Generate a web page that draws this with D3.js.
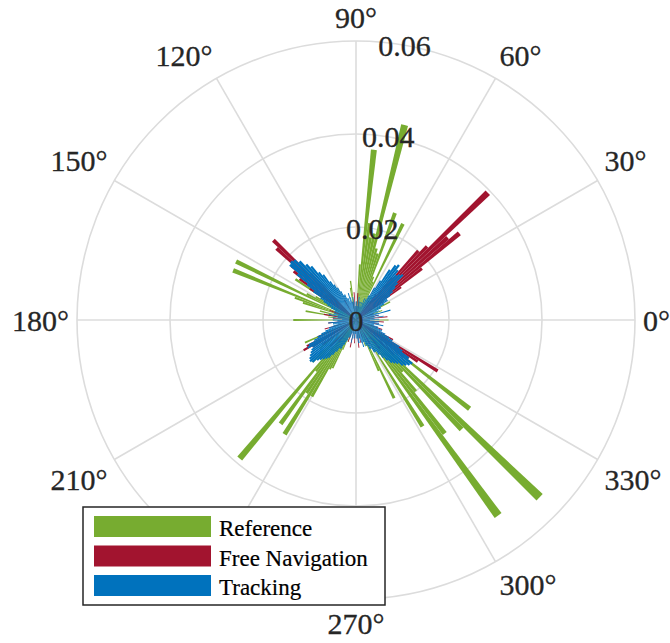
<!DOCTYPE html>
<html>
<head>
<meta charset="utf-8">
<script src="https://cdn.jsdelivr.net/npm/d3@7"></script>
<style>
  html, body { margin: 0; padding: 0; background: #ffffff; }
  svg { display: block; }
</style>
</head>
<body>
<svg id="chart" width="670" height="643"></svg>
<script>
// Polar histogram of heading angles: [bin centre in degrees, probability], 2-degree bins.
const binWidthDeg = 2;

const referenceBins = [
  [0, 0.007], [10, 0.004], [20, 0.006], [28, 0.0083], [34, 0.006], [50, 0.005],
  [56, 0.006], [60, 0.006], [64, 0.023], [66, 0.009], [68, 0.010], [70, 0.0245],
  [72, 0.015], [74, 0.016], [76, 0.0432], [78, 0.019], [80, 0.018], [82, 0.021],
  [84, 0.0368], [86, 0.012], [88, 0.004], [98, 0.0085], [100, 0.007],
  [136, 0.010], [142, 0.009], [146, 0.0157], [150, 0.010], [152, 0.012],
  [154, 0.0287], [158, 0.0285], [160, 0.014], [162, 0.012], [166, 0.008],
  [170, 0.011], [174, 0.006], [180, 0.0135], [196, 0.005],
  [204, 0.012], [210, 0.008], [218, 0.010], [224, 0.013], [226, 0.0115],
  [230, 0.0389], [232, 0.014], [234, 0.0276], [236, 0.019], [238, 0.029],
  [240, 0.019], [242, 0.012], [244, 0.0115], [246, 0.007], [250, 0.005],
  [280, 0.004], [290, 0.006], [294, 0.012], [296, 0.0187], [302, 0.027],
  [306, 0.052], [308, 0.031], [310, 0.020], [312, 0.015], [314, 0.0327],
  [316, 0.0549], [318, 0.014], [322, 0.031], [326, 0.012], [330, 0.008],
  [336, 0.005], [340, 0.004]
];

const freeNavigationBins = [
  [6, 0.0068], [12, 0.005], [20, 0.004], [30, 0.004], [34, 0.007], [36, 0.012],
  [38, 0.018], [40, 0.029], [42, 0.0265], [44, 0.0394], [46, 0.022], [48, 0.020],
  [50, 0.012], [52, 0.007], [56, 0.005], [80, 0.004], [86, 0.0058], [94, 0.006],
  [100, 0.004], [120, 0.005], [134, 0.014], [136, 0.0247], [138, 0.023],
  [140, 0.018], [142, 0.017], [144, 0.015], [146, 0.012], [160, 0.006],
  [170, 0.007], [176, 0.005], [186, 0.006], [196, 0.007], [204, 0.009],
  [208, 0.012], [210, 0.013], [212, 0.011], [216, 0.009], [226, 0.008],
  [232, 0.006], [250, 0.005], [258, 0.006], [266, 0.005], [276, 0.006],
  [282, 0.005], [290, 0.004], [300, 0.006], [310, 0.008], [318, 0.011],
  [322, 0.013], [324, 0.014], [326, 0.016], [328, 0.0207], [332, 0.009],
  [340, 0.006], [350, 0.005], [356, 0.006]
];

const trackingBins = [
  [0, 0.004], [2, 0.005], [4, 0.003], [6, 0.004], [8, 0.006], [10, 0.004],
  [12, 0.005], [14, 0.004], [16, 0.0077], [18, 0.005], [20, 0.004], [22, 0.0054],
  [24, 0.005], [26, 0.006], [28, 0.006], [30, 0.007], [32, 0.008], [34, 0.008],
  [36, 0.009], [38, 0.010], [40, 0.011], [42, 0.012], [44, 0.014], [46, 0.0135],
  [48, 0.013], [50, 0.014], [52, 0.015], [54, 0.0145], [56, 0.013], [58, 0.010],
  [60, 0.008], [62, 0.006], [64, 0.005], [66, 0.004], [68, 0.005], [70, 0.003],
  [72, 0.004], [74, 0.003], [76, 0.004], [78, 0.003], [80, 0.004], [82, 0.005],
  [84, 0.003], [86, 0.003], [88, 0.004], [90, 0.004], [92, 0.003], [94, 0.003],
  [96, 0.004], [98, 0.005], [100, 0.004], [102, 0.004], [104, 0.005], [106, 0.006],
  [108, 0.004], [110, 0.005], [112, 0.005], [114, 0.006], [116, 0.006], [118, 0.007],
  [120, 0.008], [122, 0.009], [124, 0.010], [126, 0.012], [128, 0.013], [130, 0.015],
  [132, 0.016], [134, 0.0175], [136, 0.0185], [138, 0.0188], [140, 0.0185], [142, 0.016],
  [144, 0.013], [146, 0.011], [148, 0.009], [150, 0.008], [152, 0.007], [154, 0.006],
  [156, 0.005], [158, 0.005], [160, 0.004], [162, 0.005], [164, 0.005], [166, 0.004],
  [168, 0.006], [170, 0.004], [172, 0.004], [174, 0.005], [176, 0.003], [178, 0.003],
  [180, 0.005], [182, 0.004], [184, 0.004], [186, 0.006], [188, 0.005], [190, 0.005],
  [192, 0.004], [194, 0.005], [196, 0.006], [198, 0.006], [200, 0.007], [202, 0.008],
  [204, 0.009], [206, 0.010], [208, 0.0115], [210, 0.012], [212, 0.011], [214, 0.0115],
  [216, 0.012], [218, 0.0125], [220, 0.013], [222, 0.0133], [224, 0.013], [226, 0.012],
  [228, 0.0115], [230, 0.011], [232, 0.0105], [234, 0.010], [236, 0.009], [238, 0.008],
  [240, 0.007], [242, 0.007], [244, 0.006], [246, 0.005], [248, 0.004], [250, 0.004],
  [252, 0.004], [254, 0.003], [256, 0.003], [258, 0.005], [260, 0.004], [262, 0.003],
  [264, 0.004], [266, 0.004], [268, 0.003], [270, 0.003], [272, 0.004], [274, 0.004],
  [276, 0.005], [278, 0.005], [280, 0.004], [282, 0.004], [284, 0.005], [286, 0.006],
  [288, 0.005], [290, 0.005], [292, 0.006], [294, 0.006], [296, 0.007], [298, 0.007],
  [300, 0.008], [302, 0.008], [304, 0.009], [306, 0.010], [308, 0.011], [310, 0.012],
  [312, 0.0125], [314, 0.013], [316, 0.014], [318, 0.0145], [320, 0.015], [322, 0.0153],
  [324, 0.014], [326, 0.012], [328, 0.011], [330, 0.009], [332, 0.008], [334, 0.007],
  [336, 0.006], [338, 0.006], [340, 0.005], [342, 0.005], [344, 0.004], [346, 0.004],
  [348, 0.006], [350, 0.004], [352, 0.005], [354, 0.004], [356, 0.005], [358, 0.003]
];

const seriesNames = ["Reference", "Free Navigation", "Tracking"];
const seriesColors = ["#77AC30", "#A2142F", "#0072BD"];
const radialTicks = [0, 0.02, 0.04, 0.06];
const angleTicks = [0, 30, 60, 90, 120, 150, 180, 210, 240, 270, 300, 330];

const svg = d3.select("#chart");
const cx = 356, cy = 320, outerR = 279;
const r = d3.scaleLinear().domain([0, 0.06]).range([0, outerR]);
const textColor = "#262626";
const gridColor = "#dcdcdc";
const serif = "Liberation Serif, serif";

const g = svg.append("g").attr("transform", `translate(${cx},${cy})`);
const rad = d => d * Math.PI / 180;

// grid rings and spokes
g.selectAll("circle.ring").data(radialTicks.slice(1)).join("circle")
  .attr("r", d => r(d)).attr("fill", "none")
  .attr("stroke", gridColor).attr("stroke-width", 1.6);
g.selectAll("line.spoke").data(angleTicks).join("line")
  .attr("x1", 0).attr("y1", 0)
  .attr("x2", d => outerR * Math.cos(rad(d)))
  .attr("y2", d => -outerR * Math.sin(rad(d)))
  .attr("stroke", gridColor).attr("stroke-width", 1.6);

// histogram wedges: math angle (ccw from east) -> d3.arc angle (cw from north)
const arc = d3.arc().innerRadius(0);
const allSeries = [referenceBins, freeNavigationBins, trackingBins];
allSeries.forEach((bins, i) => {
  g.append("g").selectAll("path").data(bins).join("path")
    .attr("d", ([a, v]) => arc({
      outerRadius: r(v),
      startAngle: Math.PI / 2 - rad(a + binWidthDeg / 2),
      endAngle: Math.PI / 2 - rad(a - binWidthDeg / 2)
    }))
    .attr("fill", seriesColors[i]);
});

// radial tick labels along the 80 degree direction
g.selectAll("text.rtick").data(radialTicks).join("text")
  .attr("x", d => r(d) * Math.cos(rad(80)))
  .attr("y", d => -r(d) * Math.sin(rad(80)))
  .attr("text-anchor", "middle").attr("dominant-baseline", "central")
  .attr("font-family", serif).attr("font-size", 30)
  .attr("fill", textColor).attr("stroke", textColor).attr("stroke-width", 0.3)
  .text(d => d === 0 ? "0" : d3.format(".2f")(d));

// angular tick labels placed just outside the outer ring
const labelGap = 8, halfH = 16;
angleTicks.forEach(a => {
  const c = Math.cos(rad(a)), s = Math.sin(rad(a));
  const t = g.append("text")
    .attr("text-anchor", "middle").attr("dominant-baseline", "central")
    .attr("font-family", serif).attr("font-size", 30)
    .attr("fill", textColor).attr("stroke", textColor).attr("stroke-width", 0.3)
    .text(a + "°");
  const hw = t.node().getComputedTextLength() / 2;
  const sx = Math.abs(c) < 1e-6 ? 0 : Math.sign(c);
  const sy = Math.abs(s) < 1e-6 ? 0 : Math.sign(s);
  t.attr("x", (outerR + labelGap) * c + hw * sx)
   .attr("y", -(outerR + labelGap) * s - halfH * sy);
});

// legend
const lg = svg.append("g").attr("transform", "translate(83,507)");
lg.append("rect").attr("width", 302).attr("height", 98)
  .attr("fill", "#ffffff").attr("stroke", textColor).attr("stroke-width", 1.5);
seriesNames.forEach((name, i) => {
  const y0 = 9 + i * 29.5;
  lg.append("rect").attr("x", 11).attr("y", y0).attr("width", 117).attr("height", 21)
    .attr("fill", seriesColors[i]);
  lg.append("text").attr("x", 136).attr("y", y0 + 20)
    .attr("font-family", serif).attr("font-size", 23)
    .attr("fill", "#000000").attr("stroke", "#000000").attr("stroke-width", 0.2)
    .text(name);
});
</script>
</body>
</html>
